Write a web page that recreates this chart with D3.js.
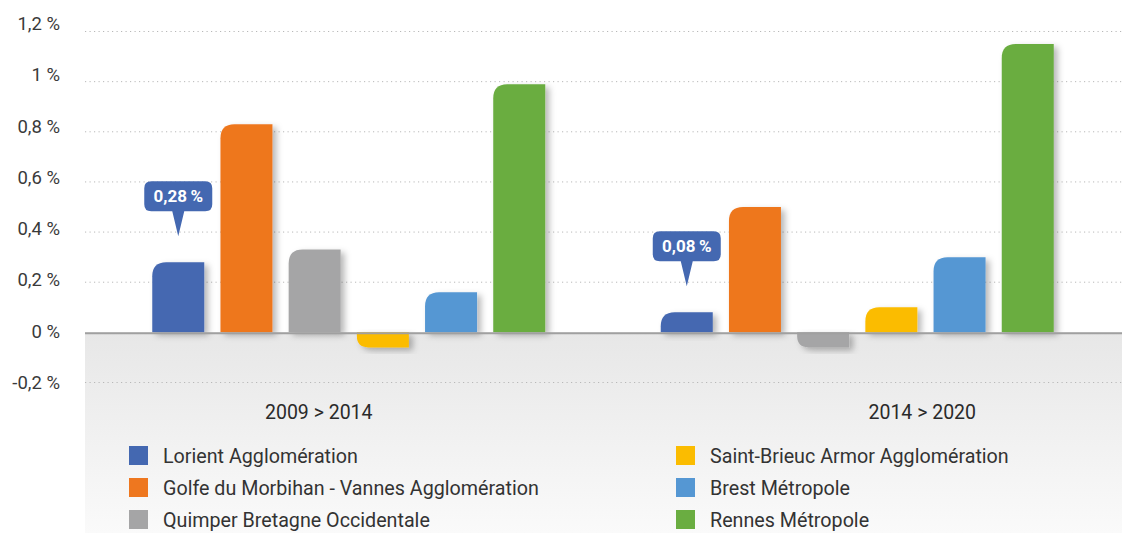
<!DOCTYPE html>
<html><head><meta charset="utf-8">
<script src="https://cdn.jsdelivr.net/npm/d3@7"></script>
<style>
html,body{margin:0;padding:0;background:#fff;}
svg{display:block;font-family:Roboto,"Noto Sans",sans-serif;}
</style></head>
<body>
<svg id="chart" width="1122" height="533"></svg>
<script>
const groups = ["2009 > 2014", "2014 > 2020"];
const series = ["Lorient Agglomération", "Golfe du Morbihan - Vannes Agglomération", "Quimper Bretagne Occidentale",
                "Saint-Brieuc Armor Agglomération", "Brest Métropole", "Rennes Métropole"];
const colors = ["#4468b1", "#ee771f", "#a5a5a6", "#fbbc00", "#5597d3", "#6aad41"];
const values2009 = [0.28, 0.83, 0.33, -0.06, 0.16, 0.99];
const values2014 = [0.08, 0.50, -0.06, 0.10, 0.30, 1.15];
const tickValues = [1.2, 1.0, 0.8, 0.6, 0.4, 0.2, 0, -0.2];
const tickLabels = ["1,2 %", "1 %", "0,8 %", "0,6 %", "0,4 %", "0,2 %", "0 %", "-0,2 %"];
const calloutSeries = "Lorient Agglomération";

const valuesByGroup = [values2009, values2014];
const fr = d3.formatLocale({decimal: ",", thousands: " ", grouping: [3], currency: ["", " €"]});
const fmt = v => fr.format(".2f")(v) + "\u2009%";

const svg = d3.select("#chart");
const W = 1122, H = 533;
const plotLeft = 85, plotRight = W;

const y = d3.scaleLinear().domain([-0.2, 1.2]).range([382.5, 31.5]);
const yLab = d3.scaleLinear().domain([-0.2, 1.2]).range([383, 24]);
const x0 = d3.scaleBand().domain(groups).range([94.5, 1111.5]).paddingInner(0);
const x1 = d3.scaleBand().domain(series).range([0, x0.bandwidth()]).paddingInner(0.2375).paddingOuter(0.847);
const color = d3.scaleOrdinal().domain(series).range(colors);

const defs = svg.append("defs");
const grad = defs.append("linearGradient").attr("id", "panelGrad").attr("x1", 0).attr("x2", 0).attr("y1", 0).attr("y2", 1);
grad.append("stop").attr("offset", "0%").attr("stop-color", "#e7e7e7");
grad.append("stop").attr("offset", "100%").attr("stop-color", "#fafafa");
const f = defs.append("filter").attr("id", "shadow").attr("x", "-20%").attr("y", "-20%").attr("width", "160%").attr("height", "160%");
f.append("feDropShadow").attr("dx", 4).attr("dy", 3).attr("stdDeviation", 3)
  .attr("flood-color", "#000").attr("flood-opacity", 0.28);

// grey panel below zero
svg.append("rect").attr("x", plotLeft).attr("y", y(0)).attr("width", plotRight - plotLeft).attr("height", H - y(0))
  .attr("fill", "url(#panelGrad)");

// gridlines
svg.append("g").selectAll("line").data(tickValues.filter(v => v !== 0)).join("line")
  .attr("x1", plotLeft).attr("x2", plotRight)
  .attr("y1", d => y(d)).attr("y2", d => y(d))
  .attr("stroke", "#b8b8b8").attr("stroke-width", 1).attr("stroke-dasharray", "1.2,3.3");

// tick labels
svg.append("g").selectAll("text").data(tickValues).join("text")
  .attr("x", 60).attr("y", d => yLab(d))
  .attr("text-anchor", "end").attr("dominant-baseline", "central")
  .attr("font-size", 18.5).attr("fill", "#3a3a3a")
  .text((d, i) => tickLabels[i]);

// bars
function barPath(xp, w, v) {
  const y0 = y(0), y1 = y(v);
  const h = Math.abs(y1 - y0);
  const r = Math.min(14, h * 0.75, w / 2);
  if (v >= 0) {
    return `M${xp},${y0} L${xp},${y1 + r} Q${xp},${y1} ${xp + r},${y1} L${xp + w},${y1} L${xp + w},${y0} Z`;
  } else {
    return `M${xp},${y0} L${xp + w},${y0} L${xp + w},${y1} L${xp + r},${y1} Q${xp},${y1} ${xp},${y1 - r} Z`;
  }
}
const barData = [];
groups.forEach((g, gi) => series.forEach((s, si) => barData.push({group: g, series: s, value: valuesByGroup[gi][si]})));

svg.append("g").selectAll("path").data(barData).join("path")
  .attr("d", d => barPath(x0(d.group) + x1(d.series), x1.bandwidth(), d.value))
  .attr("fill", d => color(d.series))
  .attr("filter", "url(#shadow)");

// zero line
svg.append("line").attr("x1", plotLeft).attr("x2", plotRight).attr("y1", y(0) + 1).attr("y2", y(0) + 1)
  .attr("stroke", "#a0a0a0").attr("stroke-width", 2);

// category labels
const labelOffsets = [-30, 65];
svg.append("g").selectAll("text").data(groups).join("text")
  .attr("x", (d, i) => x0(d) + x0.bandwidth() / 2 + labelOffsets[i])
  .attr("y", 412).attr("text-anchor", "middle").attr("dominant-baseline", "central")
  .attr("font-size", 19.5).attr("fill", "#2a2a2a")
  .text(d => d);

// callouts
const callouts = barData.filter(d => d.series === calloutSeries);
const cg = svg.append("g").selectAll("g").data(callouts).join("g")
  .attr("transform", d => `translate(${x0(d.group) + x1(d.series) + x1.bandwidth() / 2},${y(d.value) - 26})`);
const bw = 68, bh = 30;
cg.append("path")
  .attr("d", `M${-bw / 2 + 7},${-bh - 25} H${bw / 2 - 7} Q${bw / 2},${-bh - 25} ${bw / 2},${-bh - 18} V${-32} Q${bw / 2},${-25} ${bw / 2 - 7},${-25} H6 L0,0 L-6,-25 H${-bw / 2 + 7} Q${-bw / 2},-25 ${-bw / 2},-32 V${-bh - 18} Q${-bw / 2},${-bh - 25} ${-bw / 2 + 7},${-bh - 25} Z`)
  .attr("fill", "#4468b1");
cg.append("text").attr("x", 0).attr("y", -25 - bh / 2).attr("text-anchor", "middle").attr("dominant-baseline", "central")
  .attr("font-size", 17).attr("font-weight", 700).attr("fill", "#fff")
  .text(d => fmt(d.value));

// legend
const legend = svg.append("g").selectAll("g").data(series).join("g")
  .attr("transform", (d, i) => `translate(${i < 3 ? 129 : 676},${446 + (i % 3) * 32})`);
legend.append("rect").attr("width", 19).attr("height", 19).attr("fill", d => color(d));
legend.append("text").attr("x", 34).attr("y", 10).attr("dominant-baseline", "central")
  .attr("font-size", 19.7).attr("fill", "#333").text(d => d);
</script>
</body></html>
